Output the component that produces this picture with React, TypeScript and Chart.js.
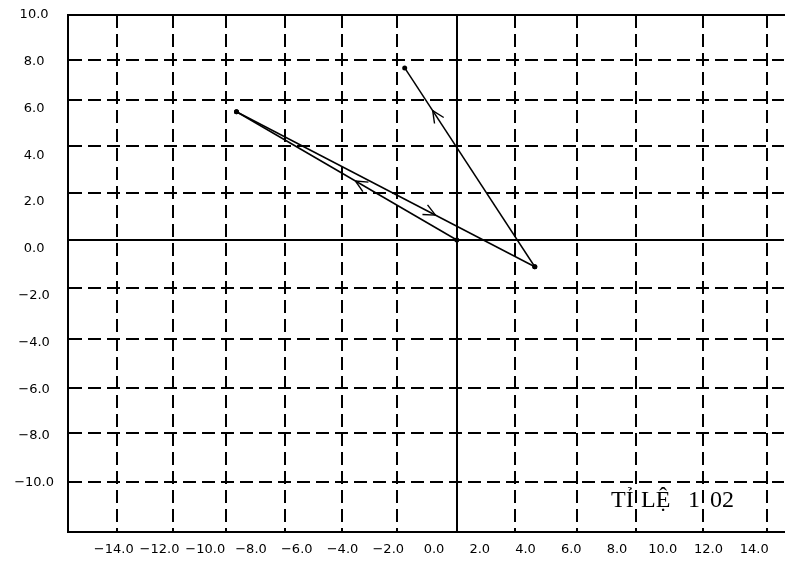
import React, { useEffect, useRef } from 'react';
import { Chart, registerables } from 'chart.js';

Chart.register(...registerables);

// Points of the vector diagram (data units, same scale on both axes)
const pointNames = ['O', 'A', 'B', 'C'];
const pointX = [0, -9.47, -2.24, 3.35];
const pointY = [0, 5.47, 7.34, -1.14];

// Vectors: from point index -> to point index, arrowhead position along the vector
const vectorFrom = [0, 1, 3];
const vectorTo = [1, 3, 2];
const arrowAt = [0.46, 0.667, 0.785];

// Grid lines drawn by the plotting program (data units)
const xGridValues = [-14.62, -12.18, -9.92, -7.39, -4.92, -2.56, 0, 2.52, 5.17, 7.69, 10.6, 13.33];
const yGridValues = [7.68, 5.97, 4.01, 2.0, 0, -2.05, -4.22, -6.31, -8.23, -10.32];

// Printed tick labels
const xTickLabels = [-14, -12, -10, -8, -6, -4, -2, 0, 2, 4, 6, 8, 10, 12, 14];
const yTickLabels = [10, 8, 6, 4, 2, 0, -2, -4, -6, -8, -10];

// Scale caption, word by word
const scaleWords = ['TỈ', 'LỆ', '1', '02'];

const fmt = (v: number) => Number(v).toFixed(1).replace('-', '\u2212');
const gridDash = (ctx: any) => (ctx.type === 'tick' && ctx.tick && ctx.tick.value === 0 ? [] : [13, 6]);

const arrowPlugin = {
  id: 'vectorArrows',
  afterDatasetsDraw(chart: any) {
    const { ctx, scales, chartArea } = chart;
    const sx = scales.x;
    const sy = scales.y;
    ctx.save();
    ctx.strokeStyle = '#000';
    ctx.lineWidth = 1.4;
    for (let i = 0; i < vectorFrom.length; i++) {
      const px = sx.getPixelForValue(pointX[vectorFrom[i]]);
      const py = sy.getPixelForValue(pointY[vectorFrom[i]]);
      const qx = sx.getPixelForValue(pointX[vectorTo[i]]);
      const qy = sy.getPixelForValue(pointY[vectorTo[i]]);
      const t = arrowAt[i];
      const tx = px + (qx - px) * t;
      const ty = py + (qy - py) * t;
      const len = Math.hypot(qx - px, qy - py);
      const bx = -(qx - px) / len;
      const by = -(qy - py) / len;
      const L = 13;
      const a = (25 * Math.PI) / 180;
      for (const s of [a, -a]) {
        const ax = bx * Math.cos(s) - by * Math.sin(s);
        const ay = bx * Math.sin(s) + by * Math.cos(s);
        ctx.beginPath();
        ctx.moveTo(tx + ax * L, ty + ay * L);
        ctx.lineTo(tx, ty);
        ctx.stroke();
      }
    }
    ctx.fillStyle = '#000';
    ctx.font = '24px "Liberation Serif", serif';
    ctx.textAlign = 'left';
    ctx.textBaseline = 'alphabetic';
    const wordOffsets = [0, 30, 77, 99];
    const x0 = chartArea.right - 173;
    const yb = chartArea.bottom - 25;
    scaleWords.forEach((w, i) => ctx.fillText(w, x0 + wordOffsets[i], yb));
    ctx.restore();
  },
};

export default function App() {
  const canvasRef = useRef<HTMLCanvasElement | null>(null);

  useEffect(() => {
    document.body.style.margin = '0';
    const canvas = canvasRef.current;
    if (!canvas) return;

    const datasets = vectorFrom.map((f, i) => ({
      label: pointNames[f] + pointNames[vectorTo[i]],
      data: [
        { x: pointX[f], y: pointY[f] },
        { x: pointX[vectorTo[i]], y: pointY[vectorTo[i]] },
      ],
      xAxisID: 'x',
      yAxisID: 'y',
      borderColor: '#000',
      borderWidth: 1.5,
      pointRadius: 2.5,
      pointBackgroundColor: '#000',
      pointBorderWidth: 0,
      showLine: true,
      fill: false,
    }));

    const noPad = (s: any) => {
      s.paddingTop = 0;
      s.paddingBottom = 0;
      s.paddingLeft = 0;
      s.paddingRight = 0;
    };

    const chart = new Chart(canvas, {
      type: 'line',
      data: { datasets },
      options: {
        responsive: false,
        animation: false,
        devicePixelRatio: 1,
        layout: { padding: { top: 15, left: 0, right: 0, bottom: 0 } },
        plugins: { legend: { display: false }, tooltip: { enabled: false } },
        scales: {
          x: {
            type: 'linear',
            axis: 'x',
            position: 'bottom',
            weight: 0,
            min: -16.71,
            max: 14.06,
            afterBuildTicks: (s: any) => {
              s.ticks = xGridValues.map((v) => ({ value: v }));
            },
            afterFit: noPad,
            ticks: { display: false },
            grid: { color: '#000', lineWidth: 2, drawTicks: false },
            border: { display: true, color: '#000', width: 2, dash: gridDash },
          },
          xl: {
            type: 'linear',
            axis: 'x',
            position: 'bottom',
            weight: 1,
            min: -16.0,
            max: 15.3,
            afterBuildTicks: (s: any) => {
              s.ticks = xTickLabels.map((v) => ({ value: v }));
            },
            afterFit: (s: any) => {
              s.height = 31;
              noPad(s);
            },
            ticks: {
              autoSkip: false,
              maxRotation: 0,
              padding: 10,
              color: '#000',
              font: { family: 'DejaVu Sans', size: 13 },
              callback: (v: any) => fmt(v),
            },
            grid: { display: false, drawTicks: false },
            border: { display: false },
          },
          xt: {
            type: 'linear',
            axis: 'x',
            position: 'top',
            min: 0,
            max: 1,
            afterFit: noPad,
            ticks: { display: false },
            grid: { display: false, drawTicks: false },
            border: { display: true, color: '#000', width: 2 },
          },
          y: {
            type: 'linear',
            axis: 'y',
            position: 'left',
            weight: 0,
            min: -12.452,
            max: 9.595,
            afterBuildTicks: (s: any) => {
              s.ticks = yGridValues.map((v) => ({ value: v }));
            },
            afterFit: noPad,
            ticks: { display: false },
            grid: { color: '#000', lineWidth: 2, drawTicks: false },
            border: { display: true, color: '#000', width: 2, dash: gridDash },
          },
          yl: {
            type: 'linear',
            axis: 'y',
            position: 'left',
            weight: 1,
            min: -12.11,
            max: 10,
            afterBuildTicks: (s: any) => {
              s.ticks = yTickLabels.map((v) => ({ value: v }));
            },
            afterFit: (s: any) => {
              s.width = 68;
              noPad(s);
            },
            ticks: {
              autoSkip: false,
              crossAlign: 'center',
              padding: 14,
              color: '#000',
              font: { family: 'DejaVu Sans', size: 13 },
              callback: (v: any) => fmt(v),
            },
            grid: { display: false, drawTicks: false },
            border: { display: false },
          },
        },
      },
      plugins: [arrowPlugin],
    } as any);

    return () => chart.destroy();
  }, []);

  return (
    <div style={{ width: 788, height: 563 }}>
      <canvas ref={canvasRef} width={788} height={563} style={{ display: 'block' }} />
    </div>
  );
}
